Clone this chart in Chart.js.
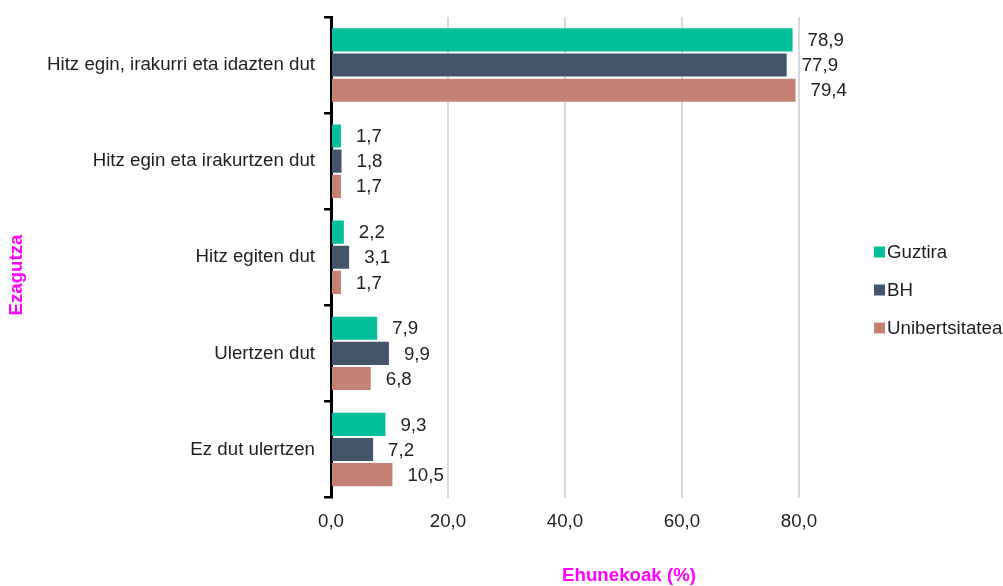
<!DOCTYPE html>
<html>
<head>
<meta charset="utf-8">
<title>Ezagutza</title>
<script src="https://cdn.jsdelivr.net/npm/chart.js@4/dist/chart.umd.min.js"></script>
<style>
  html, body { margin: 0; padding: 0; background: #fff; }
  #wrap { width: 1003px; height: 586px; }
</style>
</head>
<body>
<div id="wrap"><canvas id="chart" width="1003" height="586"></canvas></div>
<script>
const categories = [
  "Hitz egin, irakurri eta idazten dut",
  "Hitz egin eta irakurtzen dut",
  "Hitz egiten dut",
  "Ulertzen dut",
  "Ez dut ulertzen",
];
const seriesNames = ["Guztira", "BH", "Unibertsitatea"];
const guztira = [78.9, 1.7, 2.2, 7.9, 9.3];
const bh = [77.9, 1.8, 3.1, 9.9, 7.2];
const unibertsitatea = [79.4, 1.7, 1.7, 6.8, 10.5];
const xTicks = [0, 20, 40, 60, 80];

const colors = ["#00bf9a", "#44546a", "#c48174"];
const FONT = "'Liberation Sans', Arial, sans-serif";
const SIZE = 18.7;
const fmt = (v) => v.toFixed(1).replace(".", ",");

// etiketak barren amaieran
const valueLabels = {
  id: "valueLabels",
  afterDatasetsDraw(chart) {
    const ctx = chart.ctx;
    ctx.save();
    ctx.font = SIZE + "px " + FONT;
    ctx.fillStyle = "#1f1f1f";
    ctx.textAlign = "left";
    ctx.textBaseline = "middle";
    chart.data.datasets.forEach((ds, i) => {
      chart.getDatasetMeta(i).data.forEach((bar, j) => {
        ctx.fillText(fmt(ds.data[j]), bar.x + 15, bar.y + 1);
      });
    });
    ctx.restore();
  },
};

// legenda eta ardatzen izenburuak
const extras = {
  id: "extras",
  afterDraw(chart) {
    const ctx = chart.ctx;
    ctx.save();
    ctx.font = SIZE + "px " + FONT;
    ctx.textAlign = "left";
    ctx.textBaseline = "middle";
    chart.data.datasets.forEach((ds, i) => {
      const y = 252 + i * 38;
      ctx.fillStyle = ds.backgroundColor;
      ctx.fillRect(874, y - 5.5, 11, 11);
      ctx.fillStyle = "#1f1f1f";
      ctx.fillText(ds.label, 887, y + 1);
    });

    ctx.fillStyle = "#ff00ff";
    ctx.font = "bold " + SIZE + "px " + FONT;
    ctx.textAlign = "center";
    ctx.fillText("Ehunekoak (%)", 629, 576);
    ctx.translate(17, 275);
    ctx.rotate(-Math.PI / 2);
    ctx.fillText("Ezagutza", 0, 0);
    ctx.restore();
  },
};

new Chart(document.getElementById("chart"), {
  type: "bar",
  data: {
    labels: categories,
    datasets: [
      { label: seriesNames[0], data: guztira, backgroundColor: colors[0] },
      { label: seriesNames[1], data: bh, backgroundColor: colors[1] },
      { label: seriesNames[2], data: unibertsitatea, backgroundColor: colors[2] },
    ],
  },
  options: {
    indexAxis: "y",
    responsive: false,
    animation: false,
    devicePixelRatio: 1,
    categoryPercentage: 0.785,
    barPercentage: 0.92,
    layout: { padding: { top: 17, right: 204, bottom: 40, left: 0 } },
    plugins: {
      legend: { display: false },
      tooltip: { enabled: false },
    },
    scales: {
      x: {
        min: 0,
        max: 80,
        afterBuildTicks(scale) {
          scale.ticks = xTicks.map((v) => ({ value: v }));
        },
        grid: { color: "#d9d9d9", lineWidth: 2, drawTicks: false },
        border: { display: false },
        ticks: {
          padding: 13,
          color: "#1f1f1f",
          font: { family: FONT, size: SIZE },
          callback: (v) => fmt(v),
        },
      },
      y: {
        afterFit(scale) {
          scale.width = 331;
          scale.paddingTop = 0;
          scale.paddingBottom = 0;
        },
        grid: {
          offset: true,
          drawOnChartArea: false,
          drawTicks: true,
          tickLength: 7,
          color: "#000",
          lineWidth: 2.5,
        },
        border: { display: true, color: "#000", width: 3 },
        ticks: {
          padding: 9,
          color: "#1f1f1f",
          font: { family: FONT, size: SIZE },
        },
      },
    },
  },
  plugins: [valueLabels, extras],
});
</script>
</body>
</html>
